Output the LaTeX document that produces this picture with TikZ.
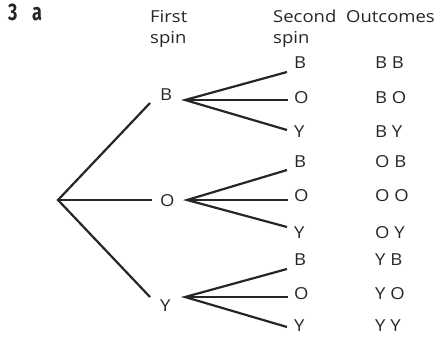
\documentclass[tikz,border=0pt]{standalone}
\usepackage{fontspec}
\setmainfont{Open Sans}[FakeStretch=1.12]
\newfontfamily\numfont[FakeStretch=0.75]{Fira Sans}
\begin{document}
\begin{tikzpicture}[x=1pt,y=-1pt,
  lbl/.style={inner sep=0pt,anchor=base west,font=\fontsize{16.5}{16.5}\selectfont,text=black!85},
  ttl/.style={anchor=base west,inner sep=0pt,font=\numfont\bfseries\fontsize{24}{24}\selectfont,text=black!85},
  br/.style={line width=2.2pt,draw=black!85,line cap=butt}]
\useasboundingbox (0,0) rectangle (443,340);
% title
\node[ttl] (q) at (8,20) {3};
\node[ttl] (qa) at (32,20) {a};
% headers
\node[lbl] (h1a) at (150,22) {First};
\node[lbl] (h1b) at (150,43) {spin};
\node[lbl] (h2a) at (273,22) {Second};
\node[lbl] (h2b) at (273,43) {spin};
\node[lbl] (h3) at (346,22) {Outcomes};
% tree points
\coordinate (root) at (58,200);
\coordinate (eB) at (150,103);
\coordinate (eO) at (152,200);
\coordinate (eY) at (150,297);
\coordinate (aB) at (185,100);
\coordinate (aO) at (187,200);
\coordinate (aY) at (185,297);
\coordinate (bB1) at (287,72);
\coordinate (bB2) at (288,100);
\coordinate (bB3) at (287,130);
\coordinate (bO1) at (287,170);
\coordinate (bO2) at (288,200);
\coordinate (bO3) at (287,227);
\coordinate (bY1) at (287,269);
\coordinate (bY2) at (288,297);
\coordinate (bY3) at (287,327);
% first level labels
\node[lbl] (fB) at (160,100) {B};
\node[lbl] (fO) at (160,206) {O};
\node[lbl] (fY) at (160,311) {Y};
% second level labels
\node[lbl] (sB1) at (294,68) {B};
\node[lbl] (sB2) at (294,103) {O};
\node[lbl] (sB3) at (294,137) {Y};
\node[lbl] (sO1) at (294,167) {B};
\node[lbl] (sO2) at (294,201) {O};
\node[lbl] (sO3) at (294,238) {Y};
\node[lbl] (sY1) at (294,265) {B};
\node[lbl] (sY2) at (294,299) {O};
\node[lbl] (sY3) at (294,331) {Y};
% outcomes
\node[lbl] (o1) at (375,68) {B B};
\node[lbl] (o2) at (375,103) {B O};
\node[lbl] (o3) at (375,137) {B Y};
\node[lbl] (o4) at (375,167) {O B};
\node[lbl] (o5) at (375,201) {O O};
\node[lbl] (o6) at (375,238) {O Y};
\node[lbl] (o7) at (375,265) {Y B};
\node[lbl] (o8) at (375,299) {Y O};
\node[lbl] (o9) at (375,331) {Y Y};
% branches
\draw[br] (eB) -- (root) -- (eY);
\draw[br] (root) -- (eO);
\draw[br] (bB1) -- (aB) -- (bB3);
\draw[br] (aB) -- (bB2);
\draw[br] (bO1) -- (aO) -- (bO3);
\draw[br] (aO) -- (bO2);
\draw[br] (bY1) -- (aY) -- (bY3);
\draw[br] (aY) -- (bY2);
\end{tikzpicture}
\end{document}
